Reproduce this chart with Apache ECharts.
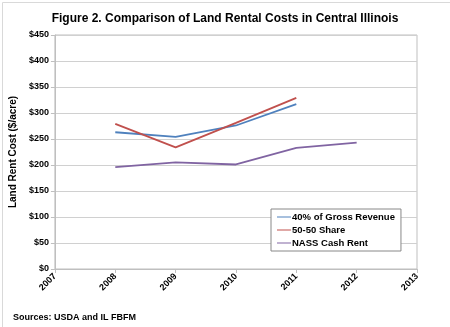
<!DOCTYPE html>
<html><head><meta charset="utf-8">
<script src="https://cdn.jsdelivr.net/npm/echarts@6/dist/echarts.min.js"></script>
<style>html,body{margin:0;padding:0;background:#fff}#c{width:450px;height:327px}</style>
</head><body><div id="c"></div>
<script>
const years = [2008, 2009, 2010, 2011, 2012];
const gross40 = [263, 254, 276, 317];
const share5050 = [279, 234, 281, 329];
const nassCash = [196, 205, 201, 233, 243];
const seriesNames = ['40% of Gross Revenue', '50-50 Share', 'NASS Cash Rent'];
const colors = ['#4F81BD', '#C0504D', '#8064A2'];
const font = 'Liberation Sans, Arial, sans-serif';

const pairs = arr => arr.map((v, i) => [years[i], v]);
const chart = echarts.init(document.getElementById('c'));
chart.setOption({
  animation: false,
  title: {
    text: 'Figure 2. Comparison of Land Rental Costs in Central Illinois',
    left: 'center', top: 8,
    textStyle: { fontFamily: font, fontSize: 12, fontWeight: 'bold', color: '#000' }
  },
  grid: { left: 52, right: 33, top: 35, bottom: 58, show: true, borderColor: '#bfbfbf', borderWidth: 1 },
  xAxis: {
    type: 'value', min: 2007, max: 2013, interval: 1,
    axisLine: { show: true, lineStyle: { color: '#bfbfbf' } },
    axisTick: { show: true, length: 4, lineStyle: { color: '#bfbfbf' } },
    splitLine: { show: false },
    axisLabel: { formatter: v => String(v), rotate: 45, fontFamily: font, fontSize: 9, fontWeight: 'bold', color: '#000', margin: 6 }
  },
  yAxis: {
    type: 'value', min: 0, max: 450, interval: 50,
    name: 'Land Rent Cost ($/acre)', nameLocation: 'middle', nameGap: 36, nameRotate: 90,
    nameTextStyle: { fontFamily: font, fontSize: 10, fontWeight: 'bold', color: '#000' },
    axisLine: { show: true, lineStyle: { color: '#bfbfbf' } },
    axisTick: { show: true, length: 4, lineStyle: { color: '#bfbfbf' } },
    splitLine: { show: true, lineStyle: { color: '#d0d0d0', width: 1 } },
    axisLabel: { formatter: v => '$' + v, fontFamily: font, fontSize: 9, fontWeight: 'bold', color: '#000', margin: 6 }
  },
  legend: {
    data: seriesNames, orient: 'vertical', left: 271, top: 209,
    backgroundColor: '#fff', borderColor: '#888', borderWidth: 1,
    padding: [3, 6, 3, 6], itemGap: 3, itemWidth: 14, itemHeight: 10,
    icon: 'path://M0,4.5 L14,4.5 L14,5.5 L0,5.5 Z',
    textStyle: { fontFamily: font, fontSize: 9.5, fontWeight: 'bold', color: '#000', padding: [0, 0, 0, -4] }
  },
  series: [
    { name: seriesNames[0], type: 'line', data: pairs(gross40), symbol: 'none', lineStyle: { color: colors[0], width: 1.8 }, itemStyle: { color: colors[0] } },
    { name: seriesNames[1], type: 'line', data: pairs(share5050), symbol: 'none', lineStyle: { color: colors[1], width: 1.8 }, itemStyle: { color: colors[1] } },
    { name: seriesNames[2], type: 'line', data: pairs(nassCash), symbol: 'none', lineStyle: { color: colors[2], width: 1.8 }, itemStyle: { color: colors[2] } }
  ],
  graphic: [
    { type: 'rect', left: 0, top: 0, shape: { width: 449, height: 326 }, style: { fill: 'none', stroke: '#d9d9d9', lineWidth: 1 } },
    { type: 'text', left: 13, top: 313, style: { text: 'Sources: USDA and IL FBFM', font: 'bold 9px ' + font, fill: '#000' } }
  ]
});
</script></body></html>
